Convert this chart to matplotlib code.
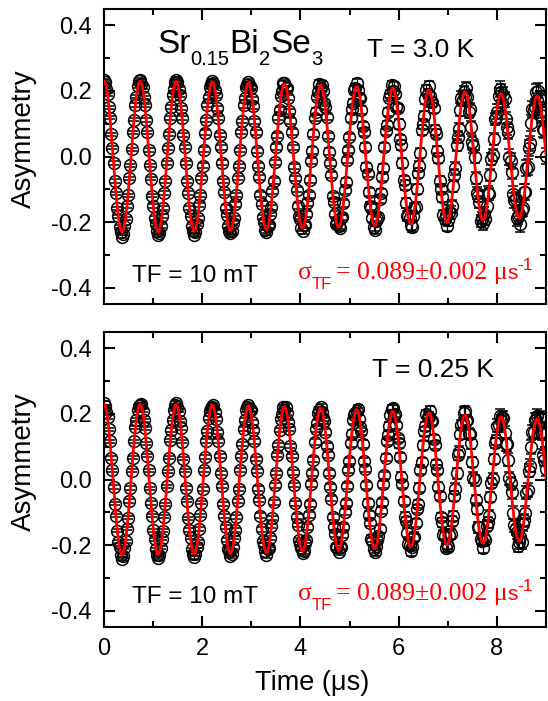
import numpy as np
import matplotlib
matplotlib.use('Agg')
import matplotlib.pyplot as plt
import matplotlib.transforms as mtransforms
from matplotlib.ticker import MultipleLocator, FormatStrFormatter

plt.rcParams['font.family'] = ['Liberation Sans', 'DejaVu Sans']
plt.rcParams['axes.unicode_minus'] = False

# ---------------- data (asymmetry in units of 1e-3) ----------------
BIN_WIDTH = 0.0245  # us

asym_3K = [
    232,228,206,190,150,118,68,27,-20,-75,-112,-158,-183,-214,-229,-245,-236,-213,-190,-151,-118,-67,-27,22,74,112,157,183,214,229,
    233,221,212,181,156,111,74,20,-27,-68,-119,-150,-189,-206,-228,-241,-232,-212,-181,-157,-112,-74,-21,27,68,118,150,189,206,227,
    234,226,205,188,149,117,66,28,-21,-74,-110,-157,-180,-213,-226,-238,-230,-205,-188,-149,-117,-66,-28,21,73,111,157,181,212,220,
    230,225,202,187,147,117,65,28,-19,-75,-109,-156,-178,-212,-226,-233,-228,-203,-188,-146,-118,-65,-29,20,75,108,156,179,212,218,
    228,214,209,175,154,107,74,18,-28,-63,-117,-144,-186,-199,-224,-231,-213,-209,-174,-155,-106,-75,-18,29,64,118,143,186,199,224,
    223,208,208,180,138,108,75,28,-31,-66,-101,-151,-183,-190,-217,-226,-209,-209,-176,-141,-118,-71,-14,18,70,117,137,181,198,222,
    210,219,199,163,151,120,62,15,-20,-56,-120,-138,-176,-206,-199,-211,-217,-189,-184,-143,-103,-77,-11,20,60,117,146,162,204,209,
    223,203,180,179,142,92,75,28,-31,-52,-108,-152,-157,-188,-214,-223,-197,-190,-185,-130,-112,-63,-35,29,79,96,137,180,192,219,
    199,216,192,151,148,100,52,36,-21,-73,-87,-143,-181,-180,-189,-208,-216,-182,-156,-154,-100,-51,-30,11,80,99,125,174,203,191,
    216,186,166,167,147,82,70,17,-4,-76,-98,-123,-178,-190,-178,-212,-193,-168,-171,-152,-90,-56,-36,35,59,83,143,180,172,197,
    182,209,183,137,144,89,43,31,0,-65,-112,-121,-139,-196,-187,-204,-174,-191,-150,-110,-115,-56,-7,4,54,114,119,137,185,205,
    197,163,187,174,113,90,76,-2,-13,-46,-113,-134,-131,-188,-181,-174,-206,-162,-158,-107,-109,-36,-31,25,40,102,146,143,151,197,
    171,201,175,127,141,84,81,1,
]

asym_025K = [
    233,223,206,191,153,117,66,28,-23,-74,-110,-156,-190,-207,-230,-242,-233,-208,-189,-150,-116,-66,-26,27,67,116,159,183,212,224,
    227,229,210,181,156,110,73,28,-27,-72,-110,-155,-182,-213,-230,-239,-229,-208,-181,-156,-113,-76,-21,25,67,120,151,182,213,226,
    234,220,210,179,157,115,64,27,-26,-65,-118,-154,-178,-213,-226,-237,-227,-205,-190,-151,-109,-71,-28,30,68,117,148,188,209,217,
    222,227,206,186,145,118,72,21,-20,-75,-112,-145,-185,-211,-218,-234,-226,-205,-177,-154,-114,-66,-30,29,72,109,154,181,213,222,
    228,216,211,174,150,116,62,26,-28,-63,-110,-152,-187,-200,-217,-231,-213,-208,-178,-142,-118,-70,-18,20,75,105,151,184,199,221,
    213,222,203,175,154,102,72,22,-17,-73,-113,-139,-184,-198,-209,-225,-218,-193,-185,-146,-107,-74,-15,21,61,115,153,173,202,211,
    222,206,188,179,146,101,75,20,-22,-58,-114,-146,-165,-205,-206,-220,-207,-206,-168,-145,-100,-73,-21,28,57,111,140,181,198,202,
    208,216,185,160,147,108,56,33,-18,-72,-107,-132,-181,-188,-212,-222,-203,-185,-173,-151,-95,-69,-15,13,66,116,136,163,197,215,
    217,195,201,165,126,110,68,9,-13,-65,-113,-126,-162,-196,-199,-219,-205,-178,-174,-132,-90,-75,-25,30,52,104,147,162,200,192,
    192,210,180,177,123,105,47,30,-22,-50,-114,-131,-168,-173,-209,-198,-205,-168,-166,-127,-112,-51,-28,19,75,85,140,166,173,204,
    209,180,181,140,139,110,54,6,-3,-63,-89,-146,-146,-182,-188,-209,-178,-185,-141,-131,-110,-54,-10,3,63,111,121,164,165,195,
    177,190,189,143,107,107,60,4,-12,-39,-101,-140,-148,-160,-202,-191,-174,-191,-137,-125,-102,-40,-32,27,42,99,145,146,183,182,
    194,167,190,144,139,74,60,31,
]

# statistical error per 1-us interval
err_3K = [0.005, 0.006, 0.007, 0.008, 0.010, 0.012, 0.015, 0.019, 0.024]
err_025K = [0.005, 0.005, 0.006, 0.007, 0.009, 0.011, 0.013, 0.016, 0.020]

# fit parameters (Gaussian-damped precession + background)
FREQ = 1.3605      # MHz
PHASE = 0.0        # rad
A_SAMPLE = 0.17
A_BG = 0.06
SIGMA_TF = 0.089   # us^-1

SANS = 'Liberation Sans'
SERIF = 'Liberation Serif'

panels = [
    dict(asym=asym_3K, err=err_3K, temp='T = 3.0 K', temp_xy=(0.595, 0.837),
         tf_xy=(0.063, 0.075), sig_xy=(0.439, 0.085)),
    dict(asym=asym_025K, err=err_025K, temp='T = 0.25 K', temp_xy=(0.606, 0.847),
         tf_xy=(0.063, 0.081), sig_xy=(0.439, 0.0915)),
]

fig = plt.figure(figsize=(5.48, 7.01), dpi=100)
W, H = 548, 701
left_px, right_px = 104, 546
axes_rects = [(9, 304), (332, 627)]
renderer = fig.canvas.get_renderer()


def rich_text(ax, x, y, pieces, color='black'):
    """Place text pieces one after another (s, family, size, dy_points) or gap (None, gap_points)."""
    xoff = 0.0
    for piece in pieces:
        if piece[0] is None:
            xoff += piece[1]
            continue
        s, fam, size, dy = piece
        tr = mtransforms.offset_copy(ax.transAxes, fig=fig, x=xoff, y=dy, units='points')
        t = ax.text(x, y, s, transform=tr, fontsize=size, family=fam, color=color,
                    ha='left', va='baseline')
        xoff += t.get_window_extent(renderer=renderer).width * 72.0 / fig.dpi


t_fit = np.linspace(0, 9, 1500)
y_fit = (A_SAMPLE * np.exp(-0.5 * (SIGMA_TF * t_fit) ** 2) + A_BG) * np.cos(2 * np.pi * FREQ * t_fit + PHASE)

for i, (p, (top_px, bot_px)) in enumerate(zip(panels, axes_rects)):
    ax = fig.add_axes([left_px / W, 1 - bot_px / H, (right_px - left_px) / W, (bot_px - top_px) / H])
    a = np.array(p['asym']) / 1000.0
    t = np.arange(len(a)) * BIN_WIDTH
    e = np.array(p['err'])[np.minimum(np.floor(t).astype(int), len(p['err']) - 1)]
    ax.errorbar(t, a, yerr=e, fmt='o', ms=8.5, mfc='none', mec='black', mew=1.1,
                ecolor='black', elinewidth=0.9, capsize=3.5, capthick=0.9, zorder=2)
    ax.plot(t_fit, y_fit, color='red', lw=2.0, zorder=3)

    ax.set_xlim(0, 9)
    ax.set_ylim(-0.45, 0.45)
    ax.xaxis.set_major_locator(MultipleLocator(2))
    ax.xaxis.set_minor_locator(MultipleLocator(1))
    ax.yaxis.set_major_locator(MultipleLocator(0.2))
    ax.yaxis.set_minor_locator(MultipleLocator(0.1))
    ax.yaxis.set_major_formatter(FormatStrFormatter('%.1f'))
    ax.tick_params(which='both', direction='in', top=True, right=True, width=1.5)
    ax.tick_params(which='major', length=8)
    ax.tick_params(which='minor', length=4.3)
    ax.tick_params(axis='y', labelsize=17, pad=9)
    ax.tick_params(axis='x', labelsize=17, pad=8)
    for s in ax.spines.values():
        s.set_linewidth(1.5)

    ax.set_ylabel('Asymmetry', fontsize=20)
    ax.yaxis.set_label_coords(-0.152, 0.56)

    if i == 0:
        ax.tick_params(axis='x', labelbottom=False)
        rich_text(ax, 0.12, 0.851, [
            ('Sr', SANS, 24, 0), ('0.15', SANS, 14.5, -9),
            ('Bi', SANS, 24, 0), ('2', SANS, 14.5, -9),
            ('Se', SANS, 24, 0), ('3', SANS, 14.5, -9),
        ])
    else:
        ax.set_xlabel('Time (\u03bcs)', fontsize=19.5)
        ax.xaxis.set_label_coords(0.47, -0.146)

    ax.text(*p['temp_xy'], p['temp'], transform=ax.transAxes,
            fontsize=19, ha='left', va='baseline')
    ax.text(*p['tf_xy'], 'TF = 10 mT', transform=ax.transAxes,
            fontsize=17.5, ha='left', va='baseline')
    rich_text(ax, *p['sig_xy'], [
        ('\u03c3', SERIF, 18.5, 0), ('TF', SANS, 12, -7), (None, 2.5),
        ('= 0.089\u00b10.002 \u03bc', SERIF, 18.5, 0), ('s', SANS, 15, 0),
        ('-1', SANS, 12.5, 6.5),
    ], color='red')

fig.savefig('out.png', dpi=100)
